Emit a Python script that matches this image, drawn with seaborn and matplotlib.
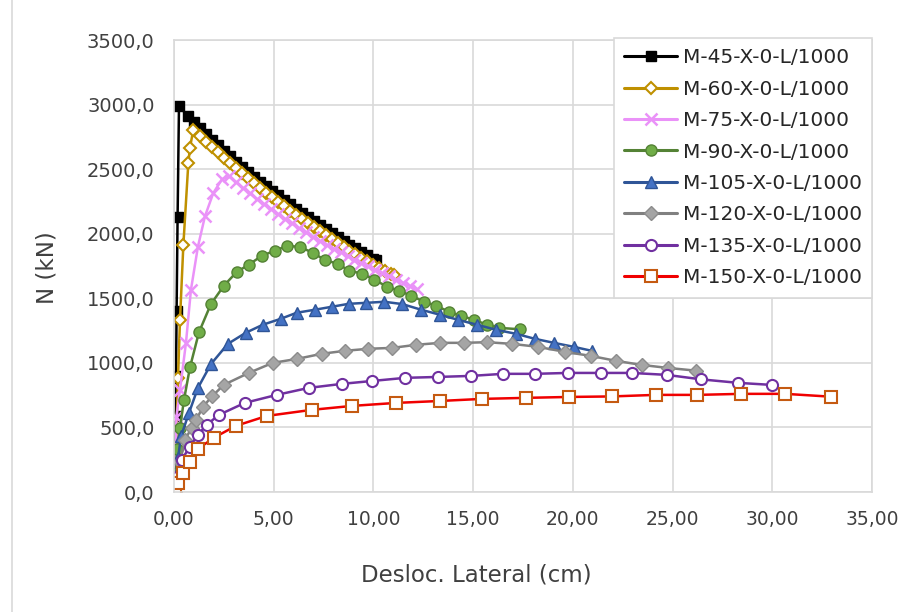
import matplotlib
matplotlib.use("Agg")
import matplotlib.pyplot as plt
import seaborn as sns
import pandas as pd
from matplotlib.lines import Line2D

# ---------------- data ----------------
labels = ["M-45-X-0-L/1000", "M-60-X-0-L/1000", "M-75-X-0-L/1000", "M-90-X-0-L/1000",
          "M-105-X-0-L/1000", "M-120-X-0-L/1000", "M-135-X-0-L/1000", "M-150-X-0-L/1000"]

x45 = [0.0, 0.05, 0.08, 0.1, 0.13, 0.18, 0.25,
       0.7, 1.0, 1.3, 1.6, 1.9, 2.2, 2.5, 2.8, 3.1, 3.4, 3.7, 4.0, 4.3, 4.6, 4.9, 5.2, 5.5, 5.8,
       6.1, 6.4, 6.7, 7.0, 7.3, 7.6, 7.9, 8.2, 8.5, 8.8, 9.1, 9.4, 9.7, 10.0, 10.15]
n45 = [0, 300, 590, 900, 1400, 2130, 2990,
       2910, 2864, 2818, 2772, 2727, 2684, 2642, 2600, 2559, 2518, 2478, 2440, 2403, 2367, 2331, 2296, 2262, 2228,
       2195, 2162, 2129, 2097, 2065, 2034, 2003, 1973, 1944, 1916, 1888, 1861, 1834, 1808, 1795]

x60 = [0.05, 0.1, 0.2, 0.3, 0.47, 0.72, 0.8, 0.97,
       1.3, 1.6, 1.9, 2.2, 2.5, 2.8, 3.1, 3.4, 3.7, 4.0, 4.3, 4.6, 4.9, 5.2, 5.5, 5.8, 6.1, 6.4,
       6.7, 7.0, 7.3, 7.6, 7.9, 8.2, 8.5, 8.8, 9.1, 9.4, 9.7, 10.0, 10.3, 10.6, 10.9, 11.05]
n60 = [0, 350, 880, 1330, 1915, 2550, 2666, 2806,
       2757, 2714, 2672, 2630, 2589, 2548, 2508, 2468, 2429, 2391, 2354, 2318, 2282, 2247, 2213, 2179, 2146, 2113,
       2081, 2049, 2018, 1987, 1957, 1927, 1898, 1869, 1841, 1813, 1786, 1760, 1735, 1711, 1690, 1677]

x75 = [0.05, 0.08, 0.12, 0.3, 0.6, 0.85, 1.2, 1.55, 1.97, 2.4, 2.75,
       3.1, 3.45, 3.8, 4.15, 4.5, 4.85, 5.2, 5.55, 5.9, 6.25, 6.6, 6.95, 7.3, 7.65, 8.0,
       8.35, 8.7, 9.05, 9.4, 9.75, 10.1, 10.45, 10.8, 11.15, 11.5, 11.85, 12.2]
n75 = [0, 200, 580, 790, 1155, 1566, 1900, 2134, 2315, 2420, 2445,
       2400, 2355, 2312, 2270, 2230, 2191, 2153, 2116, 2080, 2045, 2011, 1978, 1946, 1915, 1885,
       1856, 1828, 1800, 1773, 1747, 1721, 1695, 1670, 1645, 1620, 1595, 1570]

x90 = [0.05, 0.1, 0.15, 0.3, 0.5, 0.8, 1.25, 1.85, 2.5, 3.15, 3.75, 4.4, 5.05, 5.65, 6.3, 6.95,
       7.55, 8.2, 8.8, 9.45, 10.05, 10.7, 11.3, 11.9, 12.55, 13.15, 13.8, 14.4, 15.05, 15.7, 16.3, 17.35]
n90 = [0, 150, 330, 496, 713, 965, 1236, 1455, 1597, 1705, 1760, 1829, 1868, 1905, 1899, 1853,
       1798, 1767, 1713, 1690, 1643, 1589, 1558, 1519, 1473, 1442, 1395, 1364, 1333, 1295, 1271, 1260]

x105 = [0.05, 0.1, 0.2, 0.35, 0.75, 1.2, 1.85, 2.7, 3.6, 4.45, 5.35, 6.15, 7.05, 7.9, 8.75, 9.65,
        10.55, 11.45, 12.4, 13.35, 14.25, 15.2, 16.15, 17.15, 18.1, 19.05, 20.05, 20.95]
n105 = [0, 120, 260, 430, 612, 806, 990, 1147, 1233, 1295, 1341, 1388, 1411, 1434, 1457, 1465,
        1473, 1455, 1411, 1372, 1333, 1295, 1256, 1225, 1186, 1155, 1124, 1093]

x120 = [0.05, 0.15, 0.3, 0.55, 0.88, 1.12, 1.45, 1.9, 2.5, 3.75, 4.95, 6.15, 7.4, 8.55, 9.75,
        10.95, 12.15, 13.35, 14.55, 15.7, 16.95, 18.25, 19.6, 20.9, 22.15, 23.45, 24.75, 26.15]
n120 = [0, 100, 230, 403, 496, 560, 659, 740, 830, 922, 1000, 1030, 1070, 1093, 1109,
        1116, 1140, 1155, 1155, 1160, 1147, 1124, 1085, 1054, 1016, 984, 961, 940]

x135 = [0.05, 0.13, 0.38, 0.8, 1.2, 1.63, 2.25, 3.55, 5.15, 6.75, 8.4, 9.95, 11.6, 13.25, 14.9,
        16.5, 18.1, 19.75, 21.4, 22.95, 24.7, 26.45, 28.3, 30.0]
n135 = [0, 119, 248, 352, 442, 519, 597, 690, 752, 806, 837, 860, 884, 891, 899,
        915, 915, 922, 922, 922, 907, 872, 845, 829]

x150 = [0.05, 0.2, 0.45, 0.8, 1.2, 2.02, 3.1, 4.65, 6.9, 8.95, 11.15, 13.35, 15.45, 17.65,
        19.8, 21.95, 24.15, 26.25, 28.45, 30.65, 32.95]
n150 = [0, 70, 150, 236, 334, 422, 512, 589, 636, 667, 690, 705, 721, 729,
        736, 740, 752, 752, 760, 760, 738]

xs = [x45, x60, x75, x90, x105, x120, x135, x150]
ns = [n45, n60, n75, n90, n105, n120, n135, n150]

x_ticks = [0, 5, 10, 15, 20, 25, 30, 35]
y_ticks = [0, 500, 1000, 1500, 2000, 2500, 3000, 3500]

# ---------------- styles ----------------
styles = [
    dict(color="#000000", marker="s", mfc="#000000", mec="#000000", ms=7.0, mew=1.0),
    dict(color="#BF9000", marker="D", mfc="white", mec="#BF9000", ms=6.0, mew=1.5),
    dict(color="#EA92F8", marker="x", mfc="#EA92F8", mec="#EA92F8", ms=8.5, mew=1.8),
    dict(color="#548235", marker="o", mfc="#70AD47", mec="#548235", ms=8.0, mew=1.0),
    dict(color="#2F5597", marker="^", mfc="#4472C4", mec="#2F5597", ms=8.0, mew=1.0),
    dict(color="#808080", marker="D", mfc="#A5A5A5", mec="#8C8C8C", ms=7.0, mew=1.0),
    dict(color="#7030A0", marker="o", mfc="white", mec="#7030A0", ms=8.0, mew=1.5),
    dict(color="#F00000", marker="s", mfc="white", mec="#C55A11", ms=8.0, mew=1.5),
]

sns.set_theme(style="white")
plt.rcParams["font.family"] = ["DejaVu Sans"]

fig = plt.figure(figsize=(9.08, 6.12), dpi=100)
ax = fig.add_axes([174 / 908, 1 - 492 / 612, 698 / 908, 452 / 612])

handles = []
for lab, xv, nv, st in zip(labels, xs, ns, styles):
    df = pd.DataFrame({"x": xv, "N": nv})
    sns.lineplot(data=df, x="x", y="N", ax=ax, sort=False, estimator=None,
                 color=st["color"], linewidth=1.8, marker=st["marker"],
                 markersize=st["ms"], markerfacecolor=st["mfc"],
                 markeredgecolor=st["mec"], markeredgewidth=st["mew"], legend=False)
    handles.append(Line2D([0], [0], color=st["color"], linewidth=2.2, marker=st["marker"],
                          markersize=st["ms"], markerfacecolor=st["mfc"],
                          markeredgecolor=st["mec"], markeredgewidth=st["mew"]))

ax.set_xlim(0, 35)
ax.set_ylim(0, 3500)
ax.set_xticks(x_ticks)
ax.set_yticks(y_ticks)
ax.set_xticklabels([f"{v:.2f}".replace(".", ",") for v in x_ticks])
ax.set_yticklabels([f"{v:.1f}".replace(".", ",") for v in y_ticks])
ax.tick_params(axis="both", length=0, labelcolor="#404040")
ax.tick_params(axis="y", pad=14, labelsize=14)
ax.tick_params(axis="x", pad=13, labelsize=13.5)
ax.grid(True, color="#D9D9D9", linewidth=1.2)
ax.set_axisbelow(True)
for sp in ax.spines.values():
    sp.set_visible(True)
    sp.set_color("#D9D9D9")
    sp.set_linewidth(1.2)
ax.set_xlabel("")
ax.set_ylabel("")

fig.text(476 / 908, 1 - 575 / 612, "Desloc. Lateral (cm)", ha="center", va="center",
         fontsize=16.5, color="#404040")
fig.text(47 / 908, 1 - 268 / 612, "N (kN)", ha="center", va="center", rotation=90,
         fontsize=16.5, color="#404040")

leg = ax.legend(handles, labels, loc="upper right",
                bbox_to_anchor=(872 / 908, 1 - 38 / 612), bbox_transform=fig.transFigure,
                borderaxespad=0, fontsize=14.5, frameon=True, fancybox=False,
                framealpha=1, edgecolor="#D9D9D9", handlelength=2.6,
                handletextpad=0.3, labelspacing=0.62, borderpad=0.5)
leg.get_frame().set_linewidth(1.2)
for t in leg.get_texts():
    t.set_color("#262626")

fig.add_artist(Line2D([12 / 908, 12 / 908], [0, 1], transform=fig.transFigure,
                      color="#D9D9D9", linewidth=1.2))

fig.savefig("out.png", dpi=100)
